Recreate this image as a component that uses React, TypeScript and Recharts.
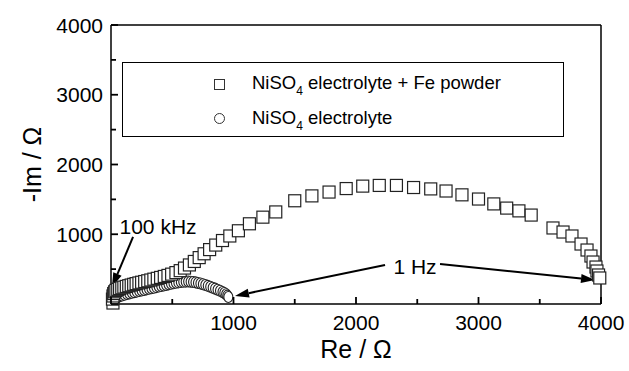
import React from 'react';
import {
  ScatterChart,
  Scatter,
  XAxis,
  YAxis,
  ReferenceLine,
  ReferenceDot,
} from 'recharts';

// NiSO4 electrolyte + Fe powder (squares)
const feRe = [
  16, 12, 16, 22, 30, 40, 55, 70, 88, 105, 125, 145, 165, 185, 205, 228, 250, 275, 300, 325,
  350, 378, 405, 435, 465, 495, 530, 565, 600, 640, 680, 720, 760, 805, 855, 910, 970, 1040,
  1130, 1240, 1345, 1500, 1640, 1780, 1920, 2055, 2190, 2330, 2470, 2610, 2735, 2865, 3000,
  3125, 3230, 3330, 3430, 3608, 3690, 3763, 3837, 3886, 3918, 3935, 3959, 3967, 3980, 3990,
];
const feIm = [
  14, 70, 115, 150, 175, 195, 210, 222, 232, 242, 252, 262, 272, 282, 292, 302, 312, 322, 333,
  344, 356, 368, 381, 395, 410, 428, 450, 478, 515, 560, 610, 665, 720, 780, 845, 910, 975,
  1050, 1150, 1245, 1320, 1480, 1550, 1605, 1655, 1690, 1700, 1700, 1670, 1650, 1620, 1565,
  1505, 1435, 1375, 1335, 1275, 1090, 1032, 975, 860, 774, 688, 602, 530, 473, 416, 373,
];

// NiSO4 electrolyte (circles)
const niRe = [
  10, 20, 35, 50, 70, 90, 110, 130, 150, 170, 190, 210, 230, 250, 270, 290, 310, 330, 350,
  370, 390, 410, 430, 450, 470, 490, 510, 530, 550, 570, 590, 610, 630, 650, 670, 690, 710,
  730, 750, 770, 790, 810, 830, 850, 870, 890, 910, 925, 940, 950, 958,
];
const niIm = [
  20, 50, 75, 95, 110, 122, 133, 143, 152, 161, 170, 178, 186, 194, 202, 210, 218, 226, 234,
  242, 250, 258, 266, 274, 282, 290, 297, 304, 310, 315, 319, 321, 322, 320, 316, 310, 302,
  293, 283, 272, 260, 247, 234, 220, 205, 190, 172, 158, 140, 120, 100,
];

const axisTicks = [0, 500, 1000, 1500, 2000, 2500, 3000, 3500, 4000];

const feData = feRe.map((x, i) => ({ x, y: feIm[i] }));
const niData = niRe.map((x, i) => ({ x, y: niIm[i] }));

const FONT = '"Liberation Sans", Arial, Helvetica, sans-serif';

const isMajor = (v: number) => v % 1000 === 0;
const tickLen = (v: number) => (isMajor(v) ? 7 : 5);
const tickText = (v: number) => (v !== 0 && isMajor(v) ? String(v) : '');
const TICK_W = 1.8;

// inward ticks drawn by hand, labels only on bottom / left
const BottomTick = (p: any) => {
  const v = p.payload.value;
  return (
    <g>
      <line x1={p.x} y1={p.y} x2={p.x} y2={p.y - tickLen(v)} stroke="#000" strokeWidth={TICK_W} />
      <text x={p.x} y={p.y + 26} textAnchor="middle" fontSize={21} fontFamily={FONT} fill="#000">
        {tickText(v)}
      </text>
    </g>
  );
};
const TopTick = (p: any) => {
  const v = p.payload.value;
  return <line x1={p.x} y1={p.y} x2={p.x} y2={p.y + tickLen(v)} stroke="#000" strokeWidth={TICK_W} />;
};
const LeftTick = (p: any) => {
  const v = p.payload.value;
  return (
    <g>
      <line x1={p.x} y1={p.y} x2={p.x + tickLen(v)} y2={p.y} stroke="#000" strokeWidth={TICK_W} />
      <text x={p.x - 8} y={p.y + 7.5} textAnchor="end" fontSize={21} fontFamily={FONT} fill="#000">
        {tickText(v)}
      </text>
    </g>
  );
};
const RightTick = (p: any) => {
  const v = p.payload.value;
  return <line x1={p.x} y1={p.y} x2={p.x - tickLen(v)} y2={p.y} stroke="#000" strokeWidth={TICK_W} />;
};

const SquareMark = (props: any) => {
  const { cx, cy } = props;
  return <rect x={cx - 6} y={cy - 6} width={12} height={12} fill="#fff" stroke="#222" strokeWidth={1.2} />;
};

const CircleMark = (props: any) => {
  const { cx, cy } = props;
  return <ellipse cx={cx} cy={cy} rx={4.5} ry={5.5} fill="#fff" stroke="#222" strokeWidth={1.1} />;
};

const Arrow = (props: any) => {
  const { x1, y1, x2, y2 } = props;
  const a = Math.atan2(y2 - y1, x2 - x1);
  const len = 14;
  const w = 4.5;
  const bx = x2 - len * Math.cos(a);
  const by = y2 - len * Math.sin(a);
  const px = -Math.sin(a) * w;
  const py = Math.cos(a) * w;
  return (
    <g>
      <line x1={x1} y1={y1} x2={bx} y2={by} stroke="#000" strokeWidth={2} />
      <polygon points={`${x2},${y2} ${bx + px},${by + py} ${bx - px},${by - py}`} fill="#000" />
    </g>
  );
};

const Sub4 = () => (
  <span style={{ fontSize: 12, position: 'relative', top: 6 }}>4</span>
);

const axisCommon = {
  type: 'number' as const,
  domain: [0, 4000],
  ticks: axisTicks,
  tickLine: false,
  tickSize: 0,
  tickMargin: 0,
  stroke: '#000',
  strokeWidth: 1.5,
};

export default function App() {
  return (
    <div style={{ position: 'absolute', left: 0, top: 0, width: 629, height: 371, background: '#fff', fontFamily: FONT }}>
      <ScatterChart width={629} height={371} margin={{ top: 24, right: 27, bottom: 0, left: 0 }}>
        <XAxis
          {...axisCommon}
          xAxisId="b"
          dataKey="x"
          height={67}
          tick={BottomTick}
          label={{ value: 'Re / Ω', position: 'insideBottom', offset: 13, fill: '#000', fontSize: 25, fontFamily: FONT }}
        />
        <XAxis {...axisCommon} xAxisId="t" orientation="top" dataKey="x" height={1} tick={TopTick} />
        <YAxis
          {...axisCommon}
          yAxisId="l"
          dataKey="y"
          width={111}
          tick={LeftTick}
          label={{ value: '-Im / Ω', angle: -90, position: 'center', dx: -23, fill: '#000', fontSize: 25, fontFamily: FONT }}
        />
        <YAxis {...axisCommon} yAxisId="r" orientation="right" dataKey="y" width={1} tick={RightTick} />
        <Scatter xAxisId="b" yAxisId="l" data={niData} shape={CircleMark} isAnimationActive={false} />
        <Scatter xAxisId="b" yAxisId="l" data={feData} shape={SquareMark} isAnimationActive={false} />
        <ReferenceLine xAxisId="b" yAxisId="l" segment={[{ x: 180, y: 961 }, { x: 8, y: 244 }]} shape={Arrow} />
        <ReferenceLine xAxisId="b" yAxisId="l" segment={[{ x: 2237, y: 559 }, { x: 1012, y: 115 }]} shape={Arrow} />
        <ReferenceLine xAxisId="b" yAxisId="l" segment={[{ x: 2686, y: 573 }, { x: 3951, y: 344 }]} shape={Arrow} />
        <ReferenceDot
          xAxisId="b"
          yAxisId="l"
          x={384}
          y={1104}
          r={0}
          fill="none"
          stroke="none"
          label={{ value: '100 kHz', position: 'center', fill: '#000', fontSize: 21, fontFamily: FONT }}
        />
        <ReferenceDot
          xAxisId="b"
          yAxisId="l"
          x={2482}
          y={530}
          r={0}
          fill="none"
          stroke="none"
          label={{ value: '1 Hz', position: 'center', fill: '#000', fontSize: 21, fontFamily: FONT }}
        />
      </ScatterChart>
      <div
        style={{
          position: 'absolute',
          left: 122,
          top: 62,
          width: 440,
          height: 73,
          border: '1.3px solid #000',
          background: '#fff',
          fontSize: 18.5,
          color: '#000',
        }}
      >
        <div style={{ position: 'absolute', left: 91, top: 16, width: 9, height: 9, border: '1px solid #333' }} />
        <div style={{ position: 'absolute', left: 129, top: 9, whiteSpace: 'nowrap', lineHeight: '22px' }}>
          NiSO<Sub4 /> electrolyte + Fe powder
        </div>
        <div style={{ position: 'absolute', left: 91, top: 50, width: 9, height: 9, border: '1px solid #333', borderRadius: '50%' }} />
        <div style={{ position: 'absolute', left: 129, top: 44, whiteSpace: 'nowrap', lineHeight: '22px' }}>
          NiSO<Sub4 /> electrolyte
        </div>
      </div>
    </div>
  );
}
